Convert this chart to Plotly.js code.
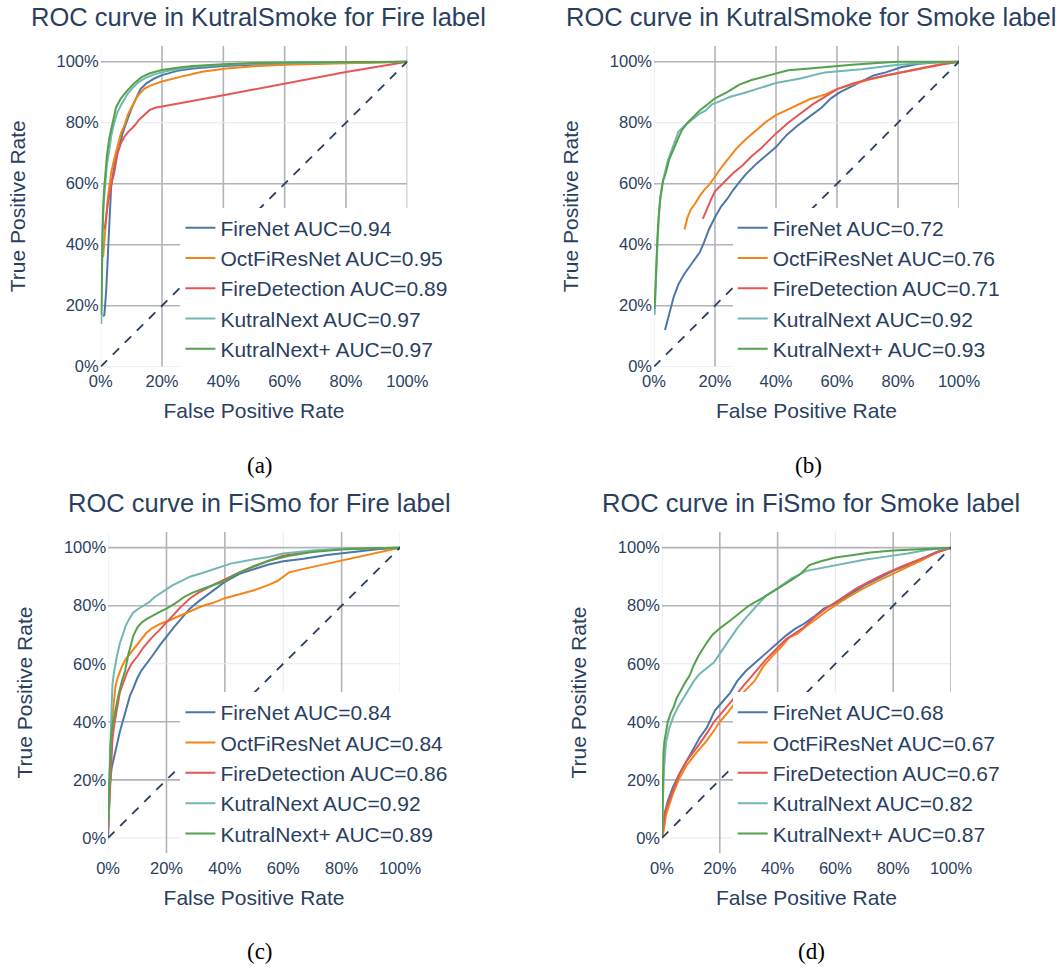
<!DOCTYPE html>
<html>
<head>
<meta charset="utf-8">
<script src="https://cdn.plot.ly/plotly-3.0.1.min.js"></script>
<style>html,body{margin:0;padding:0;background:#fff;}#chart{width:1060px;height:971px;}</style>
</head>
<body>
<div id="chart"></div>
<script>
// ---------- data ----------
const models = ['FireNet', 'OctFiResNet', 'FireDetection', 'KutralNext', 'KutralNext+'];
const panelTitles = [
  'ROC curve in KutralSmoke for Fire label',
  'ROC curve in KutralSmoke for Smoke label',
  'ROC curve in FiSmo for Fire label',
  'ROC curve in FiSmo for Smoke label'
];
const panelLabels = ['(a)', '(b)', '(c)', '(d)'];
const aucKsFire = [0.94, 0.95, 0.89, 0.97, 0.97];
const aucKsSmoke = [0.72, 0.76, 0.71, 0.92, 0.93];
const aucFsFire = [0.84, 0.84, 0.86, 0.92, 0.89];
const aucFsSmoke = [0.68, 0.67, 0.67, 0.82, 0.87];
const tickValues = [0, 0.2, 0.4, 0.6, 0.8, 1];
const diagonal = [[0, 0], [1, 1]];

// (a) KutralSmoke - Fire : [FPR, TPR]
const ksFireFireNet = [[0.008,0.165],[0.012,0.17],[0.018,0.25],[0.022,0.35],[0.026,0.45],[0.03,0.52],[0.034,0.59],[0.04,0.63],[0.05,0.69],[0.06,0.72],[0.07,0.76],[0.08,0.79],[0.09,0.82],[0.10,0.845],[0.115,0.88],[0.13,0.91],[0.15,0.93],[0.175,0.945],[0.2,0.956],[0.25,0.97],[0.3,0.978],[0.4,0.986],[0.5,0.99],[0.6,0.993],[0.8,0.997],[1,1]];
const ksFireOctFiResNet = [[0.008,0.36],[0.012,0.42],[0.017,0.47],[0.022,0.54],[0.028,0.59],[0.035,0.64],[0.044,0.68],[0.055,0.72],[0.066,0.765],[0.077,0.79],[0.088,0.825],[0.1,0.85],[0.122,0.89],[0.144,0.913],[0.17,0.925],[0.2,0.935],[0.23,0.944],[0.265,0.952],[0.3,0.96],[0.33,0.967],[0.41,0.978],[0.5,0.985],[0.6,0.99],[0.8,0.995],[1,1]];
const ksFireFireDetection = [[0.013,0.45],[0.018,0.5],[0.024,0.54],[0.03,0.57],[0.037,0.61],[0.044,0.635],[0.05,0.67],[0.055,0.70],[0.065,0.73],[0.077,0.754],[0.09,0.77],[0.11,0.79],[0.125,0.81],[0.14,0.825],[0.16,0.842],[0.18,0.85],[0.2,0.853],[0.4,0.89],[0.6,0.928],[0.8,0.966],[1,1]];
const ksFireKutralNext = [[0.002,0.14],[0.004,0.3],[0.006,0.44],[0.01,0.54],[0.015,0.6],[0.02,0.66],[0.028,0.71],[0.035,0.76],[0.044,0.80],[0.055,0.835],[0.07,0.865],[0.088,0.895],[0.105,0.915],[0.122,0.932],[0.145,0.946],[0.17,0.957],[0.2,0.965],[0.232,0.973],[0.3,0.983],[0.4,0.99],[0.5,0.993],[0.7,0.997],[1,1]];
const ksFireKutralNextPlus = [[0.002,0.17],[0.004,0.35],[0.007,0.5],[0.011,0.58],[0.015,0.64],[0.02,0.69],[0.028,0.75],[0.039,0.805],[0.05,0.85],[0.066,0.88],[0.088,0.907],[0.11,0.93],[0.135,0.95],[0.16,0.962],[0.2,0.973],[0.25,0.98],[0.3,0.986],[0.4,0.992],[0.5,0.996],[0.7,0.998],[1,1]];

// (b) KutralSmoke - Smoke
const ksSmokeFireNet = [[0.036,0.12],[0.05,0.17],[0.065,0.23],[0.08,0.27],[0.1,0.305],[0.125,0.34],[0.15,0.375],[0.165,0.41],[0.18,0.45],[0.2,0.49],[0.22,0.525],[0.24,0.55],[0.26,0.58],[0.28,0.605],[0.3,0.63],[0.335,0.665],[0.37,0.695],[0.4,0.72],[0.435,0.76],[0.47,0.79],[0.51,0.82],[0.55,0.85],[0.58,0.88],[0.61,0.9],[0.65,0.92],[0.69,0.94],[0.72,0.955],[0.76,0.965],[0.81,0.982],[0.87,0.993],[0.93,0.998],[1,1]];
const ksSmokeOctFiResNet = [[0.1,0.45],[0.11,0.49],[0.12,0.515],[0.135,0.535],[0.15,0.56],[0.165,0.58],[0.18,0.595],[0.2,0.625],[0.215,0.645],[0.23,0.665],[0.25,0.69],[0.27,0.715],[0.3,0.745],[0.335,0.775],[0.37,0.805],[0.4,0.825],[0.435,0.842],[0.47,0.86],[0.51,0.877],[0.56,0.892],[0.6,0.91],[0.65,0.925],[0.7,0.94],[0.76,0.955],[0.81,0.966],[0.87,0.978],[0.93,0.99],[1,1]];
const ksSmokeFireDetection = [[0.16,0.485],[0.17,0.51],[0.18,0.535],[0.19,0.555],[0.2,0.575],[0.22,0.595],[0.24,0.615],[0.26,0.635],[0.29,0.66],[0.32,0.69],[0.35,0.715],[0.375,0.74],[0.4,0.765],[0.44,0.8],[0.48,0.83],[0.52,0.86],[0.56,0.885],[0.6,0.91],[0.65,0.928],[0.7,0.942],[0.76,0.955],[0.82,0.967],[0.88,0.978],[0.94,0.99],[1,1]];
const ksSmokeKutralNext = [[0.002,0.17],[0.005,0.26],[0.008,0.33],[0.012,0.42],[0.016,0.49],[0.02,0.55],[0.027,0.6],[0.035,0.635],[0.045,0.675],[0.058,0.71],[0.07,0.745],[0.08,0.77],[0.1,0.79],[0.124,0.809],[0.15,0.83],[0.17,0.84],[0.19,0.86],[0.213,0.869],[0.25,0.885],[0.29,0.896],[0.35,0.915],[0.4,0.93],[0.48,0.945],[0.56,0.965],[0.68,0.975],[0.8,0.99],[0.9,0.997],[1,1]];
const ksSmokeKutralNextPlus = [[0.002,0.19],[0.006,0.32],[0.011,0.42],[0.015,0.49],[0.02,0.545],[0.03,0.61],[0.04,0.64],[0.05,0.68],[0.06,0.705],[0.07,0.73],[0.08,0.75],[0.091,0.775],[0.11,0.8],[0.13,0.82],[0.15,0.84],[0.175,0.86],[0.2,0.88],[0.24,0.9],[0.28,0.925],[0.32,0.94],[0.36,0.95],[0.4,0.962],[0.44,0.972],[0.5,0.977],[0.56,0.983],[0.65,0.99],[0.72,0.995],[0.8,1.0],[1,1]];

// (c) FiSmo - Fire
const fsFireFireNet = [[0,0.0],[0.002,0.08],[0.006,0.18],[0.012,0.24],[0.02,0.28],[0.03,0.32],[0.04,0.365],[0.052,0.41],[0.065,0.46],[0.075,0.49],[0.086,0.515],[0.1,0.55],[0.115,0.578],[0.13,0.6],[0.15,0.625],[0.178,0.665],[0.2,0.695],[0.225,0.725],[0.25,0.755],[0.28,0.79],[0.31,0.815],[0.34,0.838],[0.37,0.86],[0.4,0.882],[0.45,0.91],[0.5,0.927],[0.55,0.942],[0.6,0.953],[0.67,0.962],[0.75,0.975],[0.85,0.987],[0.93,0.995],[1,1]];
const fsFireOctFiResNet = [[0,0.03],[0.003,0.15],[0.008,0.3],[0.012,0.39],[0.018,0.46],[0.025,0.52],[0.032,0.55],[0.047,0.59],[0.06,0.615],[0.075,0.635],[0.09,0.655],[0.11,0.68],[0.13,0.705],[0.15,0.722],[0.18,0.738],[0.21,0.75],[0.24,0.762],[0.28,0.78],[0.32,0.798],[0.36,0.81],[0.4,0.826],[0.45,0.84],[0.5,0.853],[0.55,0.872],[0.58,0.885],[0.6,0.9],[0.62,0.915],[0.67,0.927],[0.75,0.945],[0.8,0.956],[0.9,0.978],[1,1]];
const fsFireFireDetection = [[0,0.03],[0.005,0.15],[0.01,0.27],[0.015,0.34],[0.021,0.39],[0.03,0.45],[0.04,0.5],[0.05,0.53],[0.065,0.57],[0.08,0.6],[0.1,0.625],[0.12,0.655],[0.15,0.69],[0.175,0.715],[0.2,0.743],[0.225,0.77],[0.25,0.797],[0.28,0.825],[0.31,0.845],[0.36,0.872],[0.4,0.892],[0.45,0.915],[0.5,0.935],[0.55,0.955],[0.6,0.972],[0.7,0.988],[0.8,0.995],[1,1]];
const fsFireKutralNext = [[0,0.05],[0.002,0.13],[0.006,0.25],[0.009,0.32],[0.012,0.45],[0.015,0.53],[0.02,0.57],[0.03,0.625],[0.04,0.67],[0.052,0.705],[0.06,0.73],[0.07,0.75],[0.085,0.775],[0.1,0.787],[0.12,0.8],[0.14,0.812],[0.16,0.83],[0.19,0.85],[0.22,0.87],[0.25,0.885],[0.28,0.9],[0.32,0.912],[0.36,0.925],[0.42,0.945],[0.5,0.96],[0.55,0.968],[0.6,0.98],[0.7,0.99],[0.8,0.996],[1,1]];
const fsFireKutralNextPlus = [[0,0.05],[0.004,0.2],[0.009,0.33],[0.015,0.39],[0.024,0.44],[0.035,0.49],[0.047,0.54],[0.058,0.575],[0.069,0.63],[0.078,0.67],[0.086,0.695],[0.1,0.725],[0.115,0.742],[0.13,0.753],[0.15,0.765],[0.175,0.778],[0.2,0.79],[0.23,0.808],[0.26,0.83],[0.29,0.845],[0.33,0.86],[0.37,0.875],[0.4,0.885],[0.44,0.91],[0.5,0.937],[0.55,0.955],[0.62,0.972],[0.7,0.985],[0.8,0.994],[0.9,0.998],[1,1]];

// (d) FiSmo - Smoke
const fsSmokeFireNet = [[0,0],[0.003,0.04],[0.008,0.08],[0.02,0.127],[0.037,0.173],[0.06,0.22],[0.085,0.265],[0.107,0.3],[0.13,0.345],[0.155,0.38],[0.183,0.439],[0.21,0.47],[0.236,0.5],[0.26,0.54],[0.29,0.575],[0.33,0.61],[0.36,0.637],[0.4,0.67],[0.43,0.698],[0.46,0.72],[0.49,0.737],[0.53,0.765],[0.56,0.79],[0.6,0.808],[0.65,0.84],[0.7,0.87],[0.75,0.895],[0.8,0.92],[0.85,0.94],[0.9,0.962],[0.95,0.985],[1,1]];
const fsSmokeOctFiResNet = [[0,0],[0.005,0.02],[0.014,0.08],[0.025,0.115],[0.037,0.15],[0.06,0.205],[0.085,0.25],[0.12,0.295],[0.155,0.335],[0.18,0.37],[0.2,0.4],[0.23,0.435],[0.26,0.475],[0.29,0.51],[0.32,0.54],[0.35,0.59],[0.38,0.625],[0.41,0.655],[0.44,0.69],[0.47,0.705],[0.5,0.73],[0.535,0.755],[0.575,0.785],[0.62,0.815],[0.68,0.85],[0.74,0.882],[0.8,0.91],[0.85,0.932],[0.9,0.957],[0.95,0.983],[1,1]];
const fsSmokeFireDetection = [[0,0],[0.002,0.023],[0.008,0.07],[0.014,0.1],[0.037,0.16],[0.06,0.22],[0.085,0.265],[0.12,0.31],[0.155,0.36],[0.18,0.4],[0.21,0.435],[0.24,0.47],[0.27,0.51],[0.3,0.545],[0.33,0.58],[0.36,0.615],[0.4,0.655],[0.43,0.685],[0.46,0.705],[0.49,0.725],[0.53,0.762],[0.57,0.792],[0.62,0.825],[0.67,0.858],[0.72,0.885],[0.77,0.91],[0.83,0.935],[0.89,0.96],[0.95,0.983],[1,1]];
const fsSmokeKutralNext = [[0,0],[0.002,0.05],[0.004,0.15],[0.007,0.24],[0.01,0.29],[0.014,0.33],[0.026,0.38],[0.04,0.42],[0.055,0.45],[0.07,0.475],[0.09,0.505],[0.11,0.54],[0.13,0.565],[0.155,0.585],[0.18,0.605],[0.2,0.635],[0.23,0.68],[0.26,0.722],[0.29,0.758],[0.33,0.8],[0.36,0.835],[0.4,0.86],[0.45,0.895],[0.5,0.92],[0.56,0.932],[0.62,0.942],[0.7,0.958],[0.78,0.97],[0.85,0.98],[0.92,0.993],[1,1]];
const fsSmokeKutralNextPlus = [[0,0],[0.001,0.1],[0.002,0.22],[0.005,0.29],[0.008,0.33],[0.014,0.37],[0.02,0.4],[0.03,0.43],[0.04,0.45],[0.05,0.48],[0.065,0.51],[0.08,0.535],[0.096,0.56],[0.11,0.595],[0.125,0.625],[0.14,0.65],[0.155,0.673],[0.175,0.7],[0.2,0.722],[0.235,0.748],[0.27,0.775],[0.3,0.8],[0.35,0.828],[0.4,0.858],[0.45,0.89],[0.48,0.91],[0.51,0.94],[0.55,0.953],[0.6,0.966],[0.65,0.973],[0.72,0.983],[0.8,0.99],[0.9,0.996],[1,1]];

const panelCurves = [
  [ksFireFireNet, ksFireOctFiResNet, ksFireFireDetection, ksFireKutralNext, ksFireKutralNextPlus],
  [ksSmokeFireNet, ksSmokeOctFiResNet, ksSmokeFireDetection, ksSmokeKutralNext, ksSmokeKutralNextPlus],
  [fsFireFireNet, fsFireOctFiResNet, fsFireFireDetection, fsFireKutralNext, fsFireKutralNextPlus],
  [fsSmokeFireNet, fsSmokeOctFiResNet, fsSmokeFireDetection, fsSmokeKutralNext, fsSmokeKutralNextPlus]
];
const panelAuc = [aucKsFire, aucKsSmoke, aucFsFire, aucFsSmoke];

// ---------- styling ----------
const W = 1060, H = 971;
const FONT = 'Liberation Sans, Arial, sans-serif';
const TXT = '#2a3f5f';
const colors = ['#4c78a8', '#f58518', '#e45756', '#72b7b2', '#54a24b'];
const lightGrid = '#E6EAF1';
const darkGrid = '#B3B3BA';
// plot boxes in pixels [left, right, top, bottom]
const boxes = [[100.7, 407.3, 45.7, 366.7], [654, 959, 45.7, 366.7], [108.1, 400, 531.7, 853.3], [662, 951, 531.7, 853.3]];
const yRanges = [[0, 1.0525], [0, 1.0525], [-0.053, 1.055], [-0.053, 1.055]];
const titlePos = [[258.9, 17], [811, 17], [259.1, 502.5], [811.1, 502.5]];
const labelPos = [[260, 466], [808, 466], [260, 951], [811, 951]];
const legendPos = [[180.4, 207.5], [732.7, 207.5], [180.4, 692.1], [732.7, 692.1]];
// which grid lines look darker in the reference
const darkV = [[0.2,0.4,0.6,0.8,1], [0.2,0.4,0.6,0.8,1], [0.2,0.4,0.8], [0.2,0.4,0.8,1]];
const darkH = [[1,0.6,0.4,0.2], [1,0.6,0.4,0.2], [1,0.8,0.4,0.2], [1,0.8,0.4,0.2]];

const data = [];
const layout = {
  width: W, height: H,
  margin: {l: 0, r: 0, t: 0, b: 0},
  paper_bgcolor: '#ffffff', plot_bgcolor: '#ffffff',
  font: {family: FONT, color: TXT},
  annotations: [], shapes: []
};

for (let p = 0; p < 4; p++) {
  const sfx = p === 0 ? '' : String(p + 1);
  const xa = 'x' + sfx, ya = 'y' + sfx;
  const lg = 'legend' + sfx;
  const [l, r, t, b] = boxes[p];
  const yr = yRanges[p];
  panelCurves[p].forEach((pts, i) => {
    data.push({
      type: 'scatter', mode: 'lines',
      x: pts.map(q => q[0]), y: pts.map(q => q[1]),
      name: models[i] + ' AUC=' + panelAuc[p][i].toFixed(2),
      line: {color: colors[i], width: 2},
      xaxis: xa, yaxis: ya, legend: lg, hoverinfo: 'skip'
    });
  });
  data.push({
    type: 'scatter', mode: 'lines',
    x: diagonal.map(q => q[0]), y: diagonal.map(q => q[1]),
    line: {color: TXT, width: 1.8, dash: '9px,8px'},
    showlegend: false, xaxis: xa, yaxis: ya, hoverinfo: 'skip'
  });
  const common = {
    tickvals: tickValues, tickformat: '.0%', ticks: '',
    showgrid: false, zeroline: false, showline: false,
    tickfont: {family: FONT, size: 16.5, color: TXT}, automargin: false, fixedrange: true
  };
  layout['xaxis' + sfx] = Object.assign({}, common, {
    domain: [l / W, r / W], anchor: ya, range: [0, 1], ticklabelstandoff: 3,
    title: {text: 'False Positive Rate', font: {family: FONT, size: 21, color: TXT}, standoff: 14}
  });
  layout['yaxis' + sfx] = Object.assign({}, common, {
    domain: [1 - b / H, 1 - t / H], anchor: xa, range: yr, ticklabelstandoff: 1,
    title: {text: 'True Positive Rate', font: {family: FONT, size: 21, color: TXT}, standoff: 25}
  });
  layout[lg] = {
    x: legendPos[p][0] / W, y: 1 - legendPos[p][1] / H, xanchor: 'left', yanchor: 'top',
    bgcolor: '#ffffff', borderwidth: 0, font: {family: FONT, size: 21, color: TXT}
  };
  layout.annotations.push({
    text: panelTitles[p], xref: 'paper', yref: 'paper',
    x: titlePos[p][0] / W, y: 1 - titlePos[p][1] / H, xanchor: 'center', yanchor: 'middle',
    showarrow: false, font: {family: FONT, size: 25.5, color: TXT}
  });
  layout.annotations.push({
    text: panelLabels[p], xref: 'paper', yref: 'paper',
    x: labelPos[p][0] / W, y: 1 - labelPos[p][1] / H, xanchor: 'center', yanchor: 'middle',
    showarrow: false, font: {family: 'Liberation Serif, Times New Roman, serif', size: 23, color: '#000000'}
  });
  // grid lines (some render darker in the reference)
  tickValues.forEach(v => {
    const dv = darkV[p].includes(v);
    layout.shapes.push({
      type: 'line', layer: 'below', xref: xa, yref: ya, x0: v, x1: v, y0: yr[0], y1: yr[1],
      line: {color: dv ? darkGrid : lightGrid, width: dv ? 1.6 : 1}
    });
    const dh = darkH[p].includes(v);
    layout.shapes.push({
      type: 'line', layer: 'below', xref: xa, yref: ya, x0: 0, x1: 1, y0: v, y1: v,
      line: {color: dh ? darkGrid : lightGrid, width: dh ? 1.6 : 1}
    });
  });
}

Plotly.newPlot('chart', data, layout, {staticPlot: true, displayModeBar: false});
</script>
</body>
</html>
